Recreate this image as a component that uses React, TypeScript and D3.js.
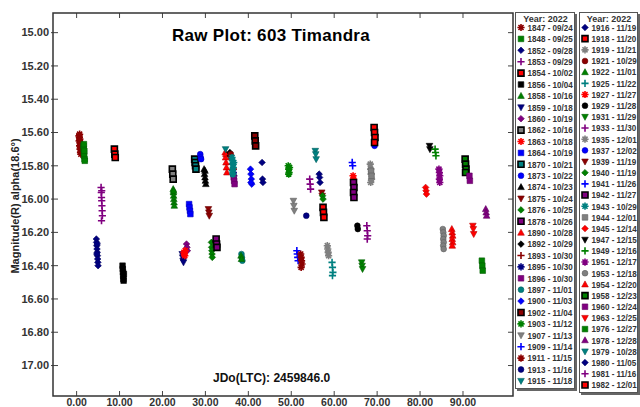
import React from 'react';
import * as d3 from 'd3';

const W = 640;
const H = 407;

const xTicks = [0, 10, 20, 30, 40, 50, 60, 70, 80, 90];
const yTicks = [15.0, 15.2, 15.4, 15.6, 15.8, 16.0, 16.2, 16.4, 16.6, 16.8, 17.0];

const titleText = 'Raw Plot: 603 Timandra';
const jdText = 'JDo(LTC): 2459846.0';
const yTitle = 'Magnitude(R) alpha(18.6°)';
const legendHeader = 'Year: 2022';

const sessionIds = [
  '1847', '1848', '1852', '1853', '1854', '1856', '1858', '1859', '1860', '1862', '1863', '1864', '1870', '1873', '1874', '1875',
  '1876', '1878', '1890', '1892', '1893', '1895', '1896', '1897', '1900', '1902', '1903', '1907', '1909', '1911', '1913', '1915',
  '1916', '1918', '1919', '1921', '1922', '1925', '1927', '1929', '1931', '1933', '1935', '1937', '1939', '1940', '1941', '1942',
  '1943', '1944', '1945', '1947', '1949', '1951', '1953', '1954', '1958', '1960', '1963', '1976', '1978', '1979', '1980', '1981', '1982',
];
const sessionDates = [
  '09/24', '09/25', '09/28', '09/29', '10/02', '10/04', '10/16', '10/18', '10/19', '10/16', '10/18', '10/19', '10/21', '10/22', '10/23', '10/24',
  '10/25', '10/26', '10/28', '10/29', '10/30', '10/30', '10/30', '11/01', '11/03', '11/04', '11/12', '11/13', '11/14', '11/15', '11/16', '11/18',
  '11/19', '11/20', '11/21', '10/29', '11/01', '11/22', '11/27', '11/28', '11/29', '11/30', '12/01', '12/02', '11/19', '11/19', '11/26', '11/27',
  '10/29', '12/01', '12/14', '12/15', '12/16', '12/17', '12/18', '12/20', '12/23', '12/24', '12/25', '12/27', '12/28', '10/28', '11/05', '11/16', '12/01',
];
const legend1Count = 32;

// observations [x (JD - JDo), magnitude]
const sessionPoints: [number, number][][] = [
  [[0.55, 15.62], [0.6, 15.65], [0.65, 15.63], [0.7, 15.68], [0.75, 15.64], [0.8, 15.7], [0.85, 15.66], [0.9, 15.72], [0.95, 15.69], [1.0, 15.73], [0.7, 15.61], [0.9, 15.67]],
  [[1.6, 15.68], [1.65, 15.7], [1.7, 15.72], [1.75, 15.74], [1.8, 15.71], [1.85, 15.76], [1.9, 15.77], [1.7, 15.67]],
  [[4.6, 16.24], [4.65, 16.26], [4.7, 16.28], [4.75, 16.3], [4.8, 16.32], [4.85, 16.34], [4.9, 16.36], [4.95, 16.38], [5.0, 16.4], [4.7, 16.33], [4.8, 16.27]],
  [[5.7, 15.93], [5.75, 15.96], [5.8, 15.99], [5.85, 16.01], [5.9, 16.04], [5.95, 16.07], [6.0, 16.1], [5.8, 16.13], [5.85, 15.95]],
  [[8.8, 15.7], [8.9, 15.73], [9.0, 15.75]],
  [[10.7, 16.4], [10.75, 16.42], [10.8, 16.44], [10.85, 16.46], [10.9, 16.48], [10.95, 16.49], [11.0, 16.45]],
  [[22.5, 15.94], [22.55, 15.96], [22.6, 15.98], [22.65, 16.0], [22.7, 16.02], [22.75, 16.04], [22.6, 15.95]],
  [[24.6, 16.33], [24.7, 16.35], [24.8, 16.37], [24.9, 16.38]],
  [[25.6, 16.27], [25.7, 16.29], [25.8, 16.31]],
  [[22.3, 15.82], [22.4, 15.85], [22.5, 15.88]],
  [[25.0, 16.32], [25.1, 16.33], [25.2, 16.34], [25.3, 16.31]],
  [[26.2, 16.03], [26.3, 16.05], [26.4, 16.07], [26.5, 16.09]],
  [[27.5, 15.76], [27.6, 15.78], [27.7, 15.8], [27.8, 15.82]],
  [[28.8, 15.73], [28.9, 15.75], [29.0, 15.76]],
  [[29.7, 15.82], [29.8, 15.85], [29.9, 15.87], [30.0, 15.89], [30.1, 15.91], [29.9, 15.83]],
  [[30.7, 16.06], [30.8, 16.08], [30.9, 16.1]],
  [[31.4, 16.26], [31.45, 16.29], [31.5, 16.31], [31.55, 16.33], [31.6, 16.35]],
  [[32.5, 16.24], [32.6, 16.27], [32.7, 16.29]],
  [[34.6, 15.72], [34.7, 15.75], [34.8, 15.78], [34.9, 15.81], [35.0, 15.84], [34.8, 15.73]],
  [[35.7, 15.72], [35.8, 15.74]],
  [[36.3, 15.79], [36.5, 15.82]],
  [[36.5, 15.84], [36.6, 15.86]],
  [[36.6, 15.87], [36.7, 15.89], [36.8, 15.91]],
  [[38.4, 16.33], [38.5, 16.35], [38.6, 16.37]],
  [[40.5, 15.82], [40.6, 15.85], [40.7, 15.88], [40.8, 15.91], [40.6, 15.9]],
  [[41.5, 15.62], [41.6, 15.65], [41.7, 15.68]],
  [[49.3, 15.8], [49.4, 15.82], [49.5, 15.84], [49.6, 15.81], [49.4, 15.85]],
  [[50.5, 16.01], [50.6, 16.04], [50.7, 16.07]],
  [[51.3, 16.31], [51.4, 16.33], [51.5, 16.35], [51.6, 16.37]],
  [[52.2, 16.33], [52.3, 16.35], [52.4, 16.37], [52.5, 16.39], [52.3, 16.41]],
  [[53.5, 16.1]],
  [[55.6, 15.71], [55.7, 15.73], [55.8, 15.76]],
  [[56.5, 15.85], [56.6, 15.87], [56.7, 15.9]],
  [[57.4, 16.05], [57.5, 16.08], [57.6, 16.11]],
  [[58.4, 16.28], [58.5, 16.3], [58.6, 16.32], [58.7, 16.34]],
  [[35.9, 15.73], [36.0, 15.75]],
  [[38.3, 16.34], [38.4, 16.36]],
  [[59.5, 16.38], [59.6, 16.41], [59.7, 16.44], [59.6, 16.46]],
  [[64.4, 15.86], [64.5, 15.88]],
  [[65.4, 16.16], [65.5, 16.18]],
  [[66.4, 16.38], [66.5, 16.4], [66.6, 16.42]],
  [[67.6, 16.16], [67.7, 16.19], [67.8, 16.22], [67.7, 16.24]],
  [[68.4, 15.79], [68.5, 15.82], [68.6, 15.85], [68.7, 15.88], [68.5, 15.9]],
  [[69.4, 15.68]],
  [[57.1, 15.96], [57.2, 15.98]],
  [[57.3, 15.98], [57.4, 16.0]],
  [[64.2, 15.78], [64.3, 15.8]],
  [[64.5, 15.9], [64.6, 15.93], [64.5, 15.96], [64.6, 15.99]],
  [[36.2, 15.75], [36.3, 15.77], [36.4, 15.79], [36.5, 15.81], [36.3, 15.83], [36.4, 15.85], [36.6, 15.78]],
  [[68.6, 15.83], [68.7, 15.86]],
  [[81.3, 15.93], [81.4, 15.95], [81.5, 15.97]],
  [[82.2, 15.68], [82.3, 15.7]],
  [[83.5, 15.7], [83.6, 15.72], [83.7, 15.74]],
  [[84.4, 15.82], [84.5, 15.84], [84.6, 15.86], [84.5, 15.88], [84.6, 15.9]],
  [[85.3, 16.18], [85.4, 16.2], [85.5, 16.22], [85.4, 16.24], [85.5, 16.26], [85.4, 16.28], [85.5, 16.3]],
  [[87.4, 16.18], [87.5, 16.2], [87.6, 16.22], [87.5, 16.24], [87.6, 16.26], [87.5, 16.28]],
  [[90.5, 15.76], [90.6, 15.79], [90.7, 15.82], [90.6, 15.84]],
  [[91.5, 15.86], [91.6, 15.89]],
  [[92.3, 16.16], [92.4, 16.18], [92.5, 16.21]],
  [[94.4, 16.37], [94.5, 16.4], [94.6, 16.43]],
  [[95.3, 16.06], [95.4, 16.08], [95.5, 16.1]],
  [[34.7, 15.7]],
  [[43.2, 15.78], [43.3, 15.88], [43.4, 15.9]],
  [[54.3, 15.88], [54.4, 15.91], [54.5, 15.94]],
  [[69.3, 15.57], [69.4, 15.6], [69.5, 15.63], [69.4, 15.66]],
];

// marker styles
const sessionShapes = [
  'ast', 'sq', 'dia', 'plus', 'sqb', 'sq', 'tri', 'trid', 'dia', 'sqb', 'ast', 'sq', 'sqb', 'circ', 'tri', 'trid',
  'dia', 'sqb', 'tri', 'dia', 'plus', 'ast', 'sq', 'circ', 'dia', 'sqb', 'ast', 'trid', 'plus', 'ast', 'circ', 'trid',
  'dia', 'sqb', 'ast', 'circ', 'tri', 'plus', 'ast', 'circ', 'trid', 'plus', 'ast', 'circ', 'trid', 'dia', 'plus', 'sqb',
  'ast', 'sq', 'dia', 'trid', 'plus', 'ast', 'circ', 'tri', 'sqb', 'sq', 'trid', 'sq', 'tri', 'trid', 'dia', 'plus', 'sqb',
];
const C = { mar: '#8b0000', grn: '#008000', nav: '#000080', pur: '#800080', red: '#ff0000', blk: '#000000', gry: '#808080', blu: '#0000ff', tea: '#008080' };
const sessionColors = [
  C.mar, C.grn, C.nav, C.pur, C.red, C.blk, C.grn, C.nav, C.pur, C.gry, C.red, C.blu, C.tea, C.blu, C.blk, C.mar,
  C.grn, C.pur, C.red, C.blk, C.mar, C.nav, C.pur, C.tea, C.blu, C.mar, C.grn, C.gry, C.blu, C.mar, C.nav, C.tea,
  C.nav, C.red, C.gry, C.mar, C.grn, C.tea, C.red, C.blk, C.grn, C.pur, C.gry, C.blu, C.mar, C.grn, C.blu, C.pur,
  C.tea, C.gry, C.red, C.blk, C.grn, C.pur, C.gry, C.red, C.grn, C.pur, C.red, C.grn, C.pur, C.tea, C.nav, C.pur, C.red,
];

const FONT = "'Liberation Sans', Arial, Helvetica, sans-serif";

function markerPath(shape: string): string {
  switch (shape) {
    case 'ast': {
      const r = 3.6, a = r * 0.707;
      return `M${-r},0L${r},0M0,${-r}L0,${r}M${-a},${-a}L${a},${a}M${-a},${a}L${a},${-a}`;
    }
    case 'plus': {
      const r = 3.6;
      return `M${-r},0L${r},0M0,${-r}L0,${r}`;
    }
    case 'sq':
      return 'M-2.8,-2.8H2.8V2.8H-2.8Z';
    case 'sqb':
      return 'M-3,-3H3V3H-3Z';
    case 'dia':
      return 'M0,-3.3L3.3,0L0,3.3L-3.3,0Z';
    case 'tri':
      return 'M0,-3.5L3.3,2.5H-3.3Z';
    case 'trid':
      return 'M0,3.5L3.3,-2.5H-3.3Z';
    default:
      return d3.symbol().type(d3.symbolCircle).size(26)() || '';
  }
}

function Marker({ shape, color, x, y }: { shape: string; color: string; x: number; y: number }) {
  const d = markerPath(shape);
  const stroked = shape === 'ast' || shape === 'plus';
  if (stroked) {
    return <path d={d} transform={`translate(${x},${y})`} fill="none" stroke={color} strokeWidth={1.6} />;
  }
  if (shape === 'sqb') {
    return <path d={d} transform={`translate(${x},${y})`} fill={color} stroke="#000" strokeWidth={1.6} />;
  }
  const dark = d3.color(color)!.darker(0.8).formatHex();
  return <path d={d} transform={`translate(${x},${y})`} fill={color} stroke={dark} strokeWidth={0.6} />;
}

export default function App() {
  const left = 53, right = 513, top = 13, bottom = 396;
  const x = d3.scaleLinear().domain([-5.5, 101.65]).range([left, right]);
  const y = d3.scaleLinear().domain([14.882, 17.183]).range([top, bottom]);

  const legends = [
    { x0: 515, w: 61, first: 27.5, step: 11.4, ids: d3.range(0, legend1Count), h: 377 },
    { x0: 579, w: 60, first: 27.5, step: 11.17, ids: d3.range(legend1Count, sessionIds.length), h: 381 },
  ];

  return (
    <svg width={W} height={H} style={{ position: 'absolute', left: 0, top: 0, background: '#fff' }} fontFamily={FONT}>
      <rect x={0} y={0} width={W} height={H} fill="#fff" />
      {/* ticks */}
      {xTicks.map((t) => (
        <g key={'xt' + t}>
          <line x1={x(t)} x2={x(t)} y1={top} y2={top + 5} stroke="#444" strokeWidth={1} />
          <line x1={x(t)} x2={x(t)} y1={bottom} y2={bottom - 5} stroke="#444" strokeWidth={1} />
          <text x={x(t)} y={406} textAnchor="middle" fontSize={10.5} fontWeight="bold" fill="#333">{t.toFixed(2)}</text>
        </g>
      ))}
      {yTicks.map((t) => (
        <g key={'yt' + t}>
          <line x1={left - 2} x2={left + 5} y1={y(t)} y2={y(t)} stroke="#444" strokeWidth={1} />
          <line x1={right} x2={right - 5} y1={y(t)} y2={y(t)} stroke="#444" strokeWidth={1} />
          <text x={49} y={y(t)} dy="0.35em" textAnchor="end" fontSize={11} fontWeight="bold" fill="#333">{t.toFixed(2)}</text>
        </g>
      ))}
      <rect x={left} y={top} width={right - left} height={bottom - top} fill="none" stroke="#333" strokeWidth={1.5} />

      {/* data */}
      {sessionPoints.map((pts, i) =>
        pts.map((p, j) => (
          <Marker key={`m${i}-${j}`} shape={sessionShapes[i]} color={sessionColors[i]} x={x(p[0])} y={y(p[1])} />
        ))
      )}

      <text x={271} y={41} textAnchor="middle" fontSize={17} fontWeight="bold" fill="#000" letterSpacing={0.3}>{titleText}</text>
      <text x={213} y={382} fontSize={12} fontWeight="bold" fill="#111">{jdText}</text>
      <text transform={`translate(19,206) rotate(-90)`} textAnchor="middle" fontSize={11} fontWeight="bold" fill="#222">{yTitle}</text>

      {/* legends */}
      {legends.map((L, li) => (
        <g key={'lg' + li}>
          <rect x={L.x0 + 2} y={14} width={L.w - 1} height={L.h} fill="#666" />
          <rect x={L.x0 + 0.5} y={12.5} width={L.w - 2} height={L.h - 1} fill="#fff" stroke="#555" strokeWidth={1} />
          <text x={L.x0 + L.w / 2} y={21.5} textAnchor="middle" fontSize={9} fontWeight="bold" fill="#333">{legendHeader}</text>
          {L.ids.map((id, k) => {
            const yy = L.first + k * L.step;
            return (
              <g key={'le' + id}>
                <Marker shape={sessionShapes[id]} color={sessionColors[id]} x={L.x0 + 6} y={yy} />
                <text transform={`translate(${L.x0 + 12.5},${yy + 3.3}) scale(0.85,1)`} fontSize={9.5} fontWeight="bold" fill="#333">
                  {`${sessionIds[id]} - ${sessionDates[id]}`}
                </text>
              </g>
            );
          })}
        </g>
      ))}
    </svg>
  );
}
